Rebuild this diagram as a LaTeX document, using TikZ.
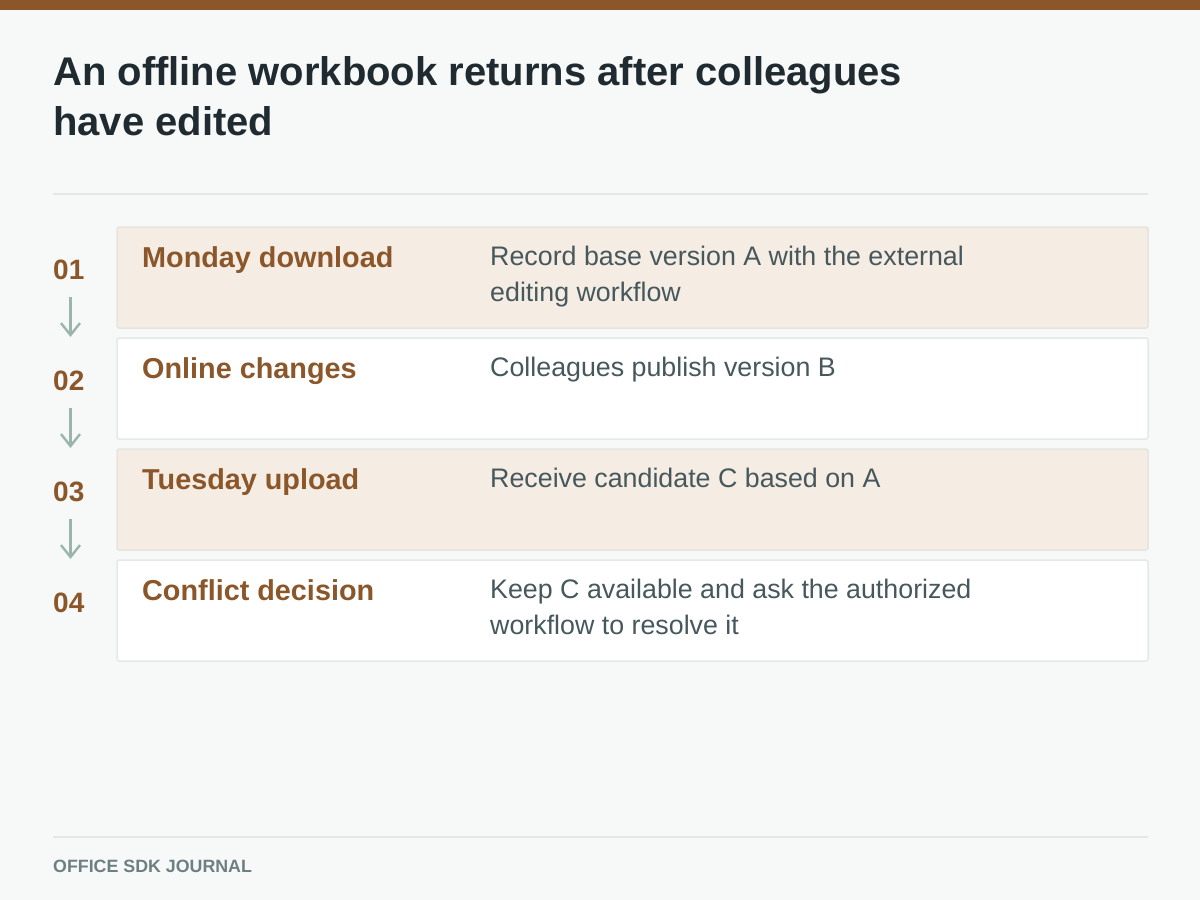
\documentclass[tikz,border=0pt]{standalone}
\usepackage{fontspec}
\setmainfont{Liberation Sans}
\usetikzlibrary{arrows.meta}
\definecolor{bg}{HTML}{F7F9F8}
\definecolor{brown}{HTML}{8B572A}
\definecolor{ink}{HTML}{1F2B31}
\definecolor{desc}{HTML}{47585D}
\definecolor{foot}{HTML}{6E7F83}
\definecolor{rule}{HTML}{E2E8E5}
\definecolor{tan}{HTML}{F5ECE3}
\definecolor{tanedge}{HTML}{E6E4DE}
\definecolor{whiteedge}{HTML}{E3E9E6}
\definecolor{arrowc}{HTML}{9BB5AC}
\tikzset{
  rowbox/.style={rounded corners=2pt, line width=1.5pt},
  oddrow/.style={rowbox, fill=tan, draw=tanedge},
  evenrow/.style={rowbox, fill=white, draw=whiteedge},
  numlabel/.style={anchor=base west, inner sep=0pt, text=brown, font=\bfseries\fontsize{28}{32}\selectfont},
  steptitle/.style={anchor=base west, inner sep=0pt, text=brown, font=\bfseries\fontsize{28.8}{32}\selectfont},
  stepdesc/.style={anchor=base west, inner sep=0pt, text=desc, align=left, font=\fontsize{26.8}{36.5}\selectfont},
  flow/.style={draw=arrowc, line width=2.4pt, -{Straight Barb[length=12pt,width=19pt,line width=2.4pt]}},
  hrule/.style={draw=rule, line width=1.8pt}
}
\begin{document}
\begin{tikzpicture}[x=1pt,y=-1pt]
\useasboundingbox (0,0) rectangle (1200,900);
\fill[bg] (0,0) rectangle (1200,900);
\fill[brown] (0,0) rectangle (1200,10);
\node[anchor=base west, inner sep=0pt, text=ink, align=left, font=\bfseries\fontsize{40}{49.5}\selectfont] (title) at (53,135) {An offline workbook returns after colleagues\\have edited};
\draw[hrule] (53,194) -- (1148,194);
% rows
\draw[oddrow] (117,227) rectangle (1148,328);
\draw[evenrow] (117,338) rectangle (1148,439);
\draw[oddrow] (117,449) rectangle (1148,550);
\draw[evenrow] (117,560) rectangle (1148,661);
% numbers
\node[numlabel] (n1) at (53,279) {01};
\node[numlabel] (n2) at (53,390) {02};
\node[numlabel] (n3) at (53,501) {03};
\node[numlabel] (n4) at (53,612) {04};
% arrows
\coordinate (a1) at (70.5,297); \coordinate (b1) at (70.5,337);
\coordinate (a2) at (70.5,408); \coordinate (b2) at (70.5,448);
\coordinate (a3) at (70.5,519); \coordinate (b3) at (70.5,559);
\draw[flow] (a1) -- (b1);
\draw[flow] (a2) -- (b2);
\draw[flow] (a3) -- (b3);
% titles
\node[steptitle] (s1) at (142,267) {Monday download};
\node[steptitle] (s2) at (142,378) {Online changes};
\node[steptitle] (s3) at (142,489) {Tuesday upload};
\node[steptitle] (s4) at (142,600) {Conflict decision};
% descriptions
\node[stepdesc] (d1) at (490,301.5) {Record base version A with the external\\editing workflow};
\node[stepdesc] (d2) at (490,376) {Colleagues publish version B};
\node[stepdesc] (d3) at (490,487) {Receive candidate C based on A};
\node[stepdesc] (d4) at (490,634.5) {Keep C available and ask the authorized\\workflow to resolve it};
% footer
\draw[hrule] (53,837) -- (1148,837);
\node[anchor=base west, inner sep=0pt, text=foot, font=\bfseries\fontsize{17.8}{20}\selectfont] (foot) at (53,872) {OFFICE SDK JOURNAL};
\end{tikzpicture}
\end{document}
